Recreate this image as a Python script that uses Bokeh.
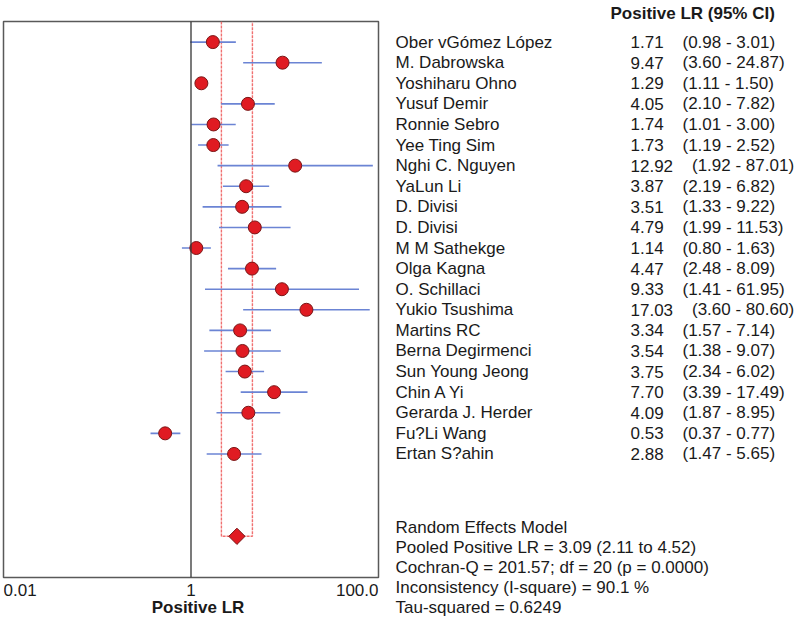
import math
from bokeh.plotting import figure
from bokeh.layouts import row, column
from bokeh.models import Range1d, Span, ColumnDataSource
from bokeh.core.properties import value
from bokeh.embed import file_html
from bokeh.resources import INLINE

# ---------------- data ----------------
studies = [
    "Ober vGómez López", "M. Dabrowska", "Yoshiharu Ohno", "Yusuf Demir",
    "Ronnie Sebro", "Yee Ting Sim", "Nghi C. Nguyen", "YaLun Li",
    "D. Divisi", "D. Divisi", "M M Sathekge", "Olga Kagna",
    "O. Schillaci", "Yukio Tsushima", "Martins RC", "Berna Degirmenci",
    "Sun Young Jeong", "Chin A Yi", "Gerarda J. Herder", "Fu?Li Wang",
    "Ertan S?ahin",
]
lr = [1.71, 9.47, 1.29, 4.05, 1.74, 1.73, 12.92, 3.87, 3.51, 4.79, 1.14,
      4.47, 9.33, 17.03, 3.34, 3.54, 3.75, 7.70, 4.09, 0.53, 2.88]
ci_low = [0.98, 3.60, 1.11, 2.10, 1.01, 1.19, 1.92, 2.19, 1.33, 1.99, 0.80,
          2.48, 1.41, 3.60, 1.57, 1.38, 2.34, 3.39, 1.87, 0.37, 1.47]
ci_high = [3.01, 24.87, 1.50, 7.82, 3.00, 2.52, 87.01, 6.82, 9.22, 11.53, 1.63,
           8.09, 61.95, 80.60, 7.14, 9.07, 6.02, 17.49, 8.95, 0.77, 5.65]

pooled_lr = 3.09
pooled_low = 2.11
pooled_high = 4.52

header = "Positive LR (95% CI)"
summary_lines = [
    "Random Effects Model",
    "Pooled Positive LR = 3.09 (2.11 to 4.52)",
    "Cochran-Q = 201.57; df =  20 (p = 0.0000)",
    "Inconsistency (I-square) = 90.1 %",
    "Tau-squared = 0.6249",
]
tick_values = [0.01, 1, 100]
tick_labels = ["0.01", "1", "100.0"]
axis_title = "Positive LR"

# ---------------- styles ----------------
FONT = "Liberation Sans"
FS = "17px"
TXT = "#1a1a1a"
RED = "#e01b22"
DARK_RED = "#7a1616"
BLUE = "#6b84d4"
POOL_LINE = "#f07070"

n = len(studies)
rows_y = list(range(n))
pooled_row = n + 3

src = ColumnDataSource(dict(
    study=studies, lr=lr, lo=ci_low, hi=ci_high, y=rows_y,
    val=[f"{v:.2f}" for v in lr],
    ci=[f"({a:.2f} - {b:.2f})" for a, b in zip(ci_low, ci_high)],
    ci_x=[297 + 9.5 * (len(f"{v:.2f}") - 4) for v in lr],
))

# ---------------- forest panel ----------------
x_rng = Range1d(tick_values[0], tick_values[-1])
pA = figure(width=385, height=579, x_axis_type="log", x_range=x_rng,
            y_range=Range1d(26, -1), x_axis_location=None, y_axis_location=None,
            output_backend="svg", toolbar_location=None,
            min_border_left=3, min_border_right=7, min_border_top=21,
            min_border_bottom=2)
pA.grid.visible = False
pA.outline_line_color = "#595959"
pA.outline_line_width = 1.5

pA.add_layout(Span(location=1, dimension="height", line_color="#333333",
                   line_width=1.3))

# pooled CI guide lines (vertical from top down to the pooled row)
pA.line(x=[pooled_low, pooled_low, pooled_high, pooled_high],
        y=[-1, pooled_row, pooled_row, -1],
        line_color=POOL_LINE, line_width=1.4, line_dash="3 1")

pA.segment(x0="lo", y0="y", x1="hi", y1="y", source=src,
           line_color=BLUE, line_width=1.6)
pA.scatter(x="lr", y="y", source=src, size=13, marker="circle",
           fill_color=RED, line_color=DARK_RED, line_width=1)
pA.scatter(x=[pooled_lr], y=[pooled_row], marker="square", angle=math.pi / 4,
           size=11.5, fill_color=RED, line_color=DARK_RED, line_width=1)

# ---------------- axis labels panel ----------------
pC = figure(width=385, height=39, x_axis_type="log", x_range=x_rng,
            y_range=Range1d(39, 0), x_axis_location=None, y_axis_location=None,
            output_backend="svg", toolbar_location=None,
            min_border_left=3, min_border_right=7, min_border_top=0,
            min_border_bottom=0)
pC.grid.visible = False
pC.outline_line_color = None
for tv, tl, al in zip(tick_values, tick_labels, ["left", "center", "right"]):
    pC.text(x=[tv], y=[10], text=[tl], text_align=al, text_baseline="middle",
            text_font=value(FONT), text_font_size=FS, text_color=TXT)
pC.text(x=[1], y=[28], text=[axis_title], x_offset=7, text_align="center",
        text_baseline="middle", text_font=value(FONT), text_font_size=FS,
        text_font_style="bold", text_color=TXT)

# ---------------- table panel ----------------
pB = figure(width=412, height=618, x_range=Range1d(0, 412),
            y_range=Range1d(27.991, -2.0198), x_axis_location=None,
            y_axis_location=None, output_backend="svg", toolbar_location=None,
            min_border=0)
pB.grid.visible = False
pB.outline_line_color = None

common = dict(text_font=value(FONT), text_font_size=FS, text_color=TXT,
              text_baseline="middle", text_align="left")
pB.text(x=10, y="y", text="study", source=src, **common)
pB.text(x=245, y="y", text="val", source=src, **common)
pB.text(x="ci_x", y="y", text="ci", source=src, **common)
pB.text(x=[225], y=[-1.388], text=[header], text_font_style="bold", **common)
pB.text(x=[10] * len(summary_lines),
        y=[23.57 + 0.972 * i for i in range(len(summary_lines))],
        text=summary_lines, **common)

layout = row(column(pA, pC), pB)
open("out.html", "w").write(file_html(layout, INLINE, title="Forest plot"))
